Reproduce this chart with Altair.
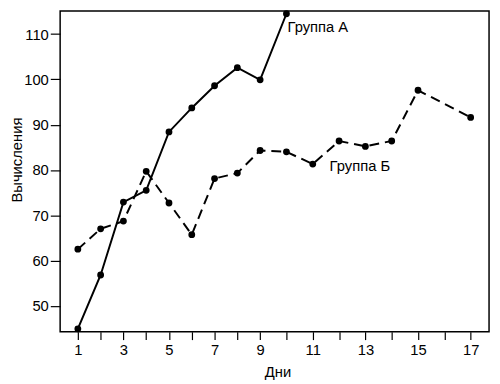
import altair as alt
import pandas as pd

days_a = [1, 2, 3, 4, 5, 6, 7, 8, 9, 10]
values_a = [44.9, 56.8, 72.9, 75.5, 88.4, 93.7, 98.6, 102.6, 99.9, 114.5]

days_b = [1, 2, 3, 4, 5, 6, 7, 8, 9, 10, 11, 12, 13, 14, 15, 17]
values_b = [62.5, 67.0, 68.7, 79.7, 72.7, 65.7, 78.1, 79.3, 84.3, 84.0, 81.3, 86.4, 85.2, 86.4, 97.6, 91.6]

label_texts = ["Группа А", "Группа Б"]
label_days = [10.04, 11.64]
label_values = [111.6, 80.9]

x_ticks = list(range(1, 18))
y_ticks = [50, 60, 70, 80, 90, 100, 110]

df_a = pd.DataFrame({"day": days_a, "value": values_a})
df_b = pd.DataFrame({"day": days_b, "value": values_b})
df_lab = pd.DataFrame({"day": label_days, "value": label_values, "text": label_texts})

FONT = "Liberation Sans"

x_scale = alt.Scale(domain=[1, 9, 17], range=[18, 203.3, 417.3])
y_scale = alt.Scale(domain=[44.26, 115.1], nice=False, zero=False)

x_axis = alt.Axis(
    values=x_ticks,
    labelExpr="datum.value % 2 == 1 ? datum.label : ''",
    domain=False, grid=False, tickSize=8, tickColor="black", tickWidth=1.2,
    labelPadding=3, labelFontSize=15, labelFont=FONT, labelColor="black",
    title="Дни", titleFont=FONT, titleFontSize=15, titleFontWeight="normal",
    titleColor="black", titleX=221, titleY=40, titleBaseline="middle",
    titleAlign="center", labelFlush=False, labelOverlap=False,
)
y_axis = alt.Axis(
    values=y_ticks,
    domain=False, grid=False, tickSize=10, tickColor="black", tickWidth=1.2,
    labelPadding=2, labelFontSize=15, labelFont=FONT, labelColor="black",
    title="Вычисления", titleFont=FONT, titleFontSize=15, titleFontWeight="normal",
    titleColor="black", titleX=-44, titleY=151, titleBaseline="middle",
    titleAlign="center", titleAngle=270, labelFlush=False,
)

X = alt.X("day:Q", scale=x_scale, axis=x_axis)
Y = alt.Y("value:Q", scale=y_scale, axis=y_axis)

line_a = alt.Chart(df_a).mark_line(color="black", strokeWidth=2).encode(x=X, y=Y)
pts_a = alt.Chart(df_a).mark_circle(color="black", size=48, opacity=1).encode(x=X, y=Y)
line_b = alt.Chart(df_b).mark_line(color="black", strokeWidth=2, strokeDash=[10, 6]).encode(x=X, y=Y)
pts_b = alt.Chart(df_b).mark_circle(color="black", size=48, opacity=1).encode(x=X, y=Y)
labels = alt.Chart(df_lab).mark_text(
    align="left", baseline="middle", font=FONT, fontSize=15, color="black"
).encode(x=X, y=Y, text="text:N")

chart = alt.layer(line_a, pts_a, line_b, pts_b, labels).properties(
    width=436, height=326,
    autosize=alt.AutoSizeParams(type="none"),
    padding={"left": 53, "top": 0, "right": 3, "bottom": 48},
    background="white",
).configure_view(stroke="black", strokeWidth=1.5)

chart.save("out.html", embed_options={"renderer": "svg", "actions": False})
